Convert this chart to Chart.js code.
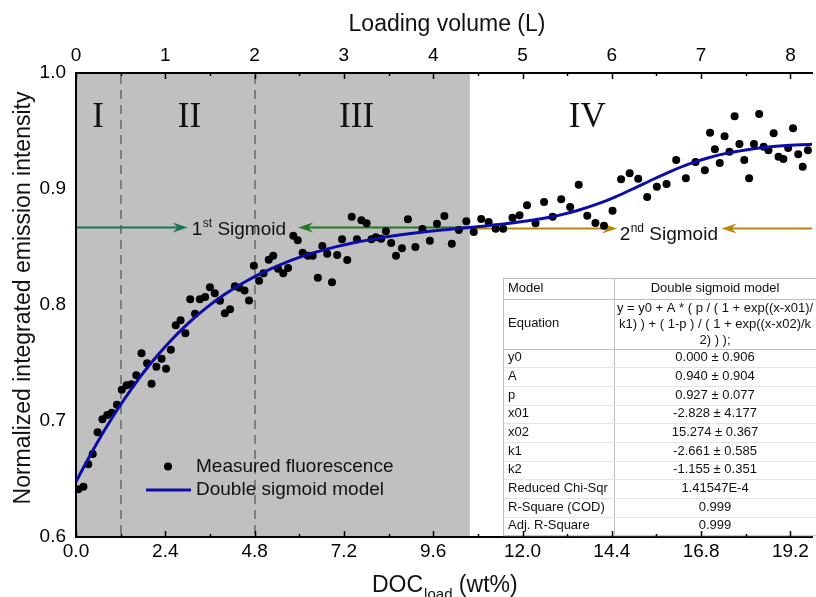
<!DOCTYPE html>
<html><head><meta charset="utf-8">
<script src="https://cdn.jsdelivr.net/npm/chart.js@4.4.1/dist/chart.umd.min.js"></script>
<style>html,body{margin:0;padding:0;background:#fff;overflow:hidden}canvas{display:block}</style>
</head><body>
<canvas id="c" width="816" height="597"></canvas>
<script>
// ---------- DATA ----------
const docLoad = [0.06,0.20,0.33,0.45,0.58,0.71,0.84,0.96,1.10,1.23,1.36,1.49,1.62,1.76,1.91,2.03,2.16,2.30,2.42,2.55,2.68,2.81,2.94,3.07,3.20,3.33,3.47,3.60,3.73,3.87,4.00,4.14,4.27,4.39,4.53,4.65,4.78,4.92,5.04,5.18,5.30,5.43,5.57,5.70,5.84,5.96,6.09,6.23,6.36,6.50,6.62,6.75,6.88,7.02,7.15,7.29,7.41,7.55,7.67,7.81,7.94,8.06,8.20,8.33,8.47,8.60,8.76,8.92,9.12,9.31,9.51,9.70,9.90,10.10,10.29,10.49,10.69,10.89,11.09,11.28,11.48,11.73,11.92,12.12,12.35,12.58,12.81,13.04,13.28,13.51,13.74,13.96,14.19,14.42,14.65,14.88,15.11,15.35,15.61,15.87,16.13,16.39,16.65,16.90,17.04,17.17,17.30,17.43,17.56,17.70,17.83,17.96,18.09,18.22,18.36,18.48,18.61,18.75,18.88,19.01,19.14,19.27,19.41,19.53,19.67];
const intensity = [0.6411,0.6434,0.6627,0.6716,0.6903,0.7015,0.7052,0.7072,0.7141,0.7270,0.7308,0.7316,0.7394,0.7584,0.7497,0.7322,0.7468,0.7537,0.7451,0.7615,0.7825,0.7868,0.7756,0.8049,0.7925,0.8049,0.8069,0.8153,0.8101,0.8037,0.7928,0.7963,0.8161,0.8149,0.8125,0.8039,0.8339,0.8209,0.8273,0.8391,0.8425,0.8313,0.8273,0.8319,0.8597,0.8558,0.8451,0.8425,0.8425,0.8235,0.8509,0.8442,0.8196,0.8431,0.8566,0.8388,0.8761,0.8566,0.8730,0.8704,0.8566,0.8584,0.8572,0.8635,0.8534,0.8425,0.8489,0.8739,0.8500,0.8655,0.8554,0.8701,0.8767,0.8528,0.8647,0.8722,0.8629,0.8741,0.8716,0.8658,0.8658,0.8753,0.8773,0.8859,0.8704,0.8888,0.8761,0.8911,0.8845,0.9037,0.8770,0.8707,0.8684,0.8813,0.9084,0.9135,0.9089,0.8931,0.9020,0.9043,0.9250,0.9092,0.9233,0.9161,0.9485,0.9342,0.9224,0.9454,0.9322,0.9627,0.9388,0.9250,0.9092,0.9388,0.9647,0.9365,0.9334,0.9481,0.9278,0.9259,0.9353,0.9523,0.9299,0.9192,0.9334];
const modelX = [0,0.5,1,1.5,2,2.5,3,3.5,4,4.5,5,5.5,6,6.5,7,7.5,8,8.5,9,9.5,10,10.5,11,11.5,12,12.5,13,13.5,14,14.5,15,15.5,16,16.5,17,17.5,18,18.5,19,19.5,19.8];
const modelY = [0.6477,0.6774,0.7043,0.7282,0.7493,0.7677,0.7837,0.7975,0.8092,0.8192,0.8277,0.8349,0.8410,0.8460,0.8503,0.8539,0.8568,0.8594,0.8616,0.8635,0.8651,0.8666,0.8682,0.8699,0.8719,0.8743,0.8775,0.8817,0.8869,0.8933,0.9006,0.9082,0.9154,0.9218,0.9269,0.9309,0.9337,0.9358,0.9372,0.9381,0.9385];
const bottomTickLabels = ['0.0','2.4','4.8','7.2','9.6','12.0','14.4','16.8','19.2'];
const topTickLabels = ['0','1','2','3','4','5','6','7','8'];
const yTickLabels = ['0.6','0.7','0.8','0.9','1.0'];
const regionNames = ['I','II','III','IV'];
const regionBounds = [1.2, 4.8, 10.585];   // wt%: dashed lines and end of grey zone
const sigmoidNames = [['1','st',' Sigmoid'],['2','nd',' Sigmoid']];
const tableNames = ['Model','Equation','y0','A','p','x01','x02','k1','k2','Reduced Chi-Sqr','R-Square (COD)','Adj. R-Square'];
const tableValues = ['Double sigmoid model',
  ['y = y0 + A * ( p / ( 1 + exp((x-x01)/','k1) ) + ( 1-p ) / ( 1 + exp((x-x02)/k','2) ) );'],
  '0.000 \u00b1 0.906','0.940 \u00b1 0.904','0.927 \u00b1 0.077','-2.828 \u00b1 4.177','15.274 \u00b1 0.367',
  '-2.661 \u00b1 0.585','-1.155 \u00b1 0.351','1.41547E-4','0.999','0.999'];

// ---------- LAYOUT / STYLE ----------
const XMAX = 19.78;
const F = "'Liberation Sans', Arial, sans-serif";
const SERIF = "'Liberation Serif', 'Times New Roman', serif";
const BLUE = '#0c0ca6';

function arrow(ctx, x1, tip, yy, color) {
  const d = Math.sign(tip - x1);
  ctx.strokeStyle = color; ctx.fillStyle = color; ctx.lineWidth = 2;
  ctx.beginPath(); ctx.moveTo(x1, yy); ctx.lineTo(tip - d * 8, yy); ctx.stroke();
  ctx.beginPath(); ctx.moveTo(tip, yy); ctx.lineTo(tip - d * 15, yy - 5); ctx.lineTo(tip - d * 10, yy);
  ctx.lineTo(tip - d * 15, yy + 5); ctx.closePath(); ctx.fill();
}
function supText(ctx, x, base, parts, size) {
  ctx.textAlign = 'left'; ctx.textBaseline = 'alphabetic'; ctx.fillStyle = '#111';
  ctx.font = size + 'px ' + F; ctx.fillText(parts[0], x, base);
  let w = ctx.measureText(parts[0]).width + 0.5;
  const ss = Math.round(size * 0.65);
  ctx.font = ss + 'px ' + F; ctx.fillText(parts[1], x + w, base - size * 0.4);
  w += ctx.measureText(parts[1]).width;
  ctx.font = size + 'px ' + F; ctx.fillText(parts[2], x + w, base);
}

const decor = {
  id: 'decor',
  beforeDraw(chart) {
    const { ctx, chartArea: a, scales: { x, y } } = chart;
    ctx.save();
    ctx.fillStyle = '#fff'; ctx.fillRect(0, 0, chart.width, chart.height);
    const gx = x.getPixelForValue(regionBounds[2]);
    ctx.fillStyle = '#c0c0c0'; ctx.fillRect(a.left, a.top, gx - a.left, a.bottom - a.top);
    ctx.strokeStyle = '#7d7d7d'; ctx.lineWidth = 2; ctx.setLineDash([9, 6]);
    [regionBounds[0], regionBounds[1]].forEach(b => {
      const px = Math.round(x.getPixelForValue(b));
      ctx.beginPath(); ctx.moveTo(px, a.top + 2); ctx.lineTo(px, a.bottom); ctx.stroke();
    });
    ctx.setLineDash([]);
    // region labels
    ctx.fillStyle = '#111'; ctx.font = '35px ' + SERIF; ctx.textAlign = 'center'; ctx.textBaseline = 'middle';
    const rx = [0.59, 3.05, 7.54, 13.74];
    regionNames.forEach((n, i) => ctx.fillText(n, x.getPixelForValue(rx[i]), y.getPixelForValue(0.9614)));
    // sigmoid arrows
    const yg = Math.round(y.getPixelForValue(0.8675)) + 0.5;
    const yo = Math.round(y.getPixelForValue(0.8661)) + 0.5;
    arrow(ctx, x.getPixelForValue(0), x.getPixelForValue(3.0), yg, '#177552');
    arrow(ctx, gx, x.getPixelForValue(5.97), yg, '#22791f');
    arrow(ctx, gx, x.getPixelForValue(14.54), yo, '#b8860b');
    arrow(ctx, a.right, x.getPixelForValue(17.35), yo, '#b8860b');
    supText(ctx, x.getPixelForValue(3.11), yg + 7, sigmoidNames[0], 19);
    supText(ctx, x.getPixelForValue(14.61), yo + 11, sigmoidNames[1], 19);
    ctx.restore();
  },
  afterDraw(chart) {
    const { ctx, chartArea: a, scales: { x, x2 } } = chart;
    ctx.save();
    // ---- table ----
    const L = 503, M = 614, R = 840, T = 278;
    const heights = [20.5, 50].concat(Array(10).fill(18.67));
    let yy = T;
    ctx.fillStyle = '#fff';
    const totalH = heights.reduce((s, h) => s + h, 0);
    ctx.fillRect(L, T, R - L, totalH);
    ctx.strokeStyle = '#bdbdbd'; ctx.lineWidth = 1;
    ctx.strokeRect(L + 0.5, T + 0.5, R - L, totalH);
    ctx.beginPath(); ctx.moveTo(M + 0.5, T); ctx.lineTo(M + 0.5, T + totalH); ctx.stroke();
    ctx.font = '13px ' + F; ctx.fillStyle = '#111'; ctx.textBaseline = 'middle';
    tableNames.forEach((n, i) => {
      const h = heights[i];
      if (i > 0 && i < 3) { ctx.beginPath(); ctx.moveTo(L, Math.round(yy) + 0.5); ctx.lineTo(R, Math.round(yy) + 0.5); ctx.stroke(); }
      else if (i >= 3) { ctx.strokeStyle = '#e4e4e4'; ctx.beginPath(); ctx.moveTo(L, Math.round(yy) + 0.5); ctx.lineTo(R, Math.round(yy) + 0.5); ctx.stroke(); ctx.strokeStyle = '#bdbdbd'; }
      ctx.textAlign = 'left'; ctx.fillText(n, L + 5, yy + h / 2);
      ctx.textAlign = 'center';
      const v = tableValues[i];
      if (Array.isArray(v)) v.forEach((s, k) => ctx.fillText(s, 715, yy + 10 + k * 16));
      else ctx.fillText(v, 715, yy + h / 2);
      yy += h;
    });
    // ---- inward ticks ----
    ctx.strokeStyle = '#000'; ctx.lineWidth = 1.5;
    for (let v = 0; v <= XMAX + 1e-6; v += 1.2) {
      const major = Math.abs(v / 2.4 - Math.round(v / 2.4)) < 1e-6;
      const px = Math.round(x.getPixelForValue(v)) + 0.5;
      ctx.beginPath(); ctx.moveTo(px, a.bottom); ctx.lineTo(px, a.bottom - (major ? 6 : 3)); ctx.stroke();
    }
    for (let v = 0; v <= XMAX / 2.4 + 1e-6; v += 0.5) {
      const major = Math.abs(v - Math.round(v)) < 1e-6;
      const px = Math.round(x2.getPixelForValue(v)) + 0.5;
      ctx.beginPath(); ctx.moveTo(px, a.top); ctx.lineTo(px, a.top + (major ? 6 : 3)); ctx.stroke();
    }
    // ---- legend ----
    const ds = chart.data.datasets;
    ctx.fillStyle = '#000';
    ctx.beginPath(); ctx.arc(168, 466.5, 4, 0, Math.PI * 2); ctx.fill();
    ctx.strokeStyle = BLUE; ctx.lineWidth = 3;
    ctx.beginPath(); ctx.moveTo(146, 490); ctx.lineTo(191, 490); ctx.stroke();
    ctx.fillStyle = '#111'; ctx.font = '19px ' + F; ctx.textAlign = 'left'; ctx.textBaseline = 'middle';
    ctx.fillText(ds[0].label, 196, 467);
    ctx.fillText(ds[1].label, 196, 490);
    // ---- axis titles ----
    ctx.fillStyle = '#111';
    ctx.font = '23px ' + F; ctx.textAlign = 'center'; ctx.textBaseline = 'middle';
    ctx.fillText('Loading volume (L)', 447, 25);
    ctx.save(); ctx.translate(24, 298); ctx.rotate(-Math.PI / 2);
    ctx.fillText('Normalized integrated emission intensity', 0, 0); ctx.restore();
    ctx.textAlign = 'left'; ctx.textBaseline = 'alphabetic';
    ctx.font = '23px ' + F;
    let bx = 372;
    ctx.fillText('DOC', bx, 592); bx += ctx.measureText('DOC').width + 1;
    ctx.font = '15px ' + F; ctx.fillText('load', bx, 599); bx += ctx.measureText('load').width;
    ctx.font = '23px ' + F; ctx.fillText(' (wt%)', bx, 592);
    ctx.restore();
  }
};

const tickFont = { family: F, size: 19 };
const chart = new Chart(document.getElementById('c'), {
  type: 'scatter',
  data: {
    datasets: [
      { label: 'Measured fluorescence', data: docLoad.map((v, i) => ({ x: v, y: intensity[i] })),
        pointRadius: 4, pointBackgroundColor: '#000', pointBorderWidth: 0, order: 1 },
      { label: 'Double sigmoid model', type: 'line', data: modelX.map((v, i) => ({ x: v, y: modelY[i] })),
        borderColor: BLUE, borderWidth: 3, pointRadius: 0, fill: false, cubicInterpolationMode: 'monotone', order: 0 }
    ]
  },
  options: {
    responsive: false, animation: false, devicePixelRatio: 1,
    layout: { padding: 0 },
    plugins: { legend: { display: false }, tooltip: { enabled: false } },
    scales: {
      x: { type: 'linear', position: 'bottom', min: 0, max: XMAX,
        afterBuildTicks: s => { s.ticks = bottomTickLabels.map(t => ({ value: parseFloat(t) })); },
        ticks: { font: tickFont, color: '#000', padding: 3, maxRotation: 0, autoSkip: false,
          callback: (v, i) => bottomTickLabels[i] },
        grid: { display: false, drawTicks: false }, border: { display: true, color: '#000', width: 2 },
        afterFit: s => { s.height = 60; } },
      x2: { type: 'linear', position: 'top', min: 0, max: XMAX / 2.4,
        afterBuildTicks: s => { s.ticks = topTickLabels.map(t => ({ value: parseFloat(t) })); },
        ticks: { font: tickFont, color: '#000', padding: 6, maxRotation: 0, autoSkip: false,
          callback: (v, i) => topTickLabels[i] },
        grid: { display: false, drawTicks: false }, border: { display: true, color: '#000', width: 2 },
        afterFit: s => { s.height = 73; } },
      y: { type: 'linear', position: 'left', min: 0.6, max: 1.0,
        afterBuildTicks: s => { s.ticks = yTickLabels.map(t => ({ value: parseFloat(t) })); },
        ticks: { font: tickFont, color: '#000', padding: 10, autoSkip: false,
          callback: (v, i) => yTickLabels[i] },
        grid: { display: false, drawTicks: false }, border: { display: true, color: '#000', width: 2 },
        afterFit: s => { s.width = 76; } }
    }
  },
  plugins: [decor]
});
</script>
</body></html>
